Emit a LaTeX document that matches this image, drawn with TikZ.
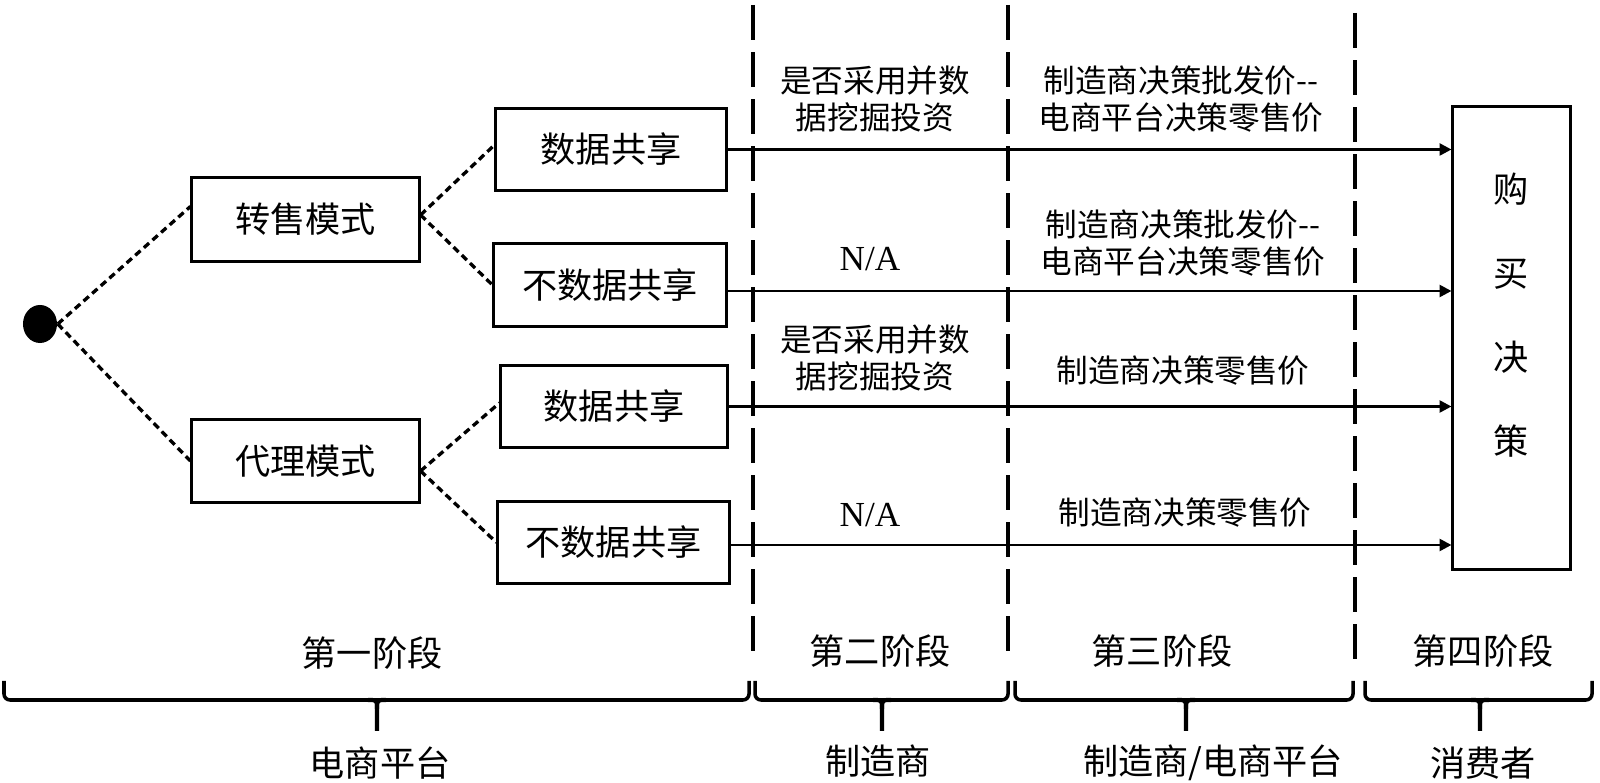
\documentclass[tikz,border=0pt]{standalone}
\usepackage{fontspec}
\setmainfont{Noto Sans CJK SC}
\newfontfamily\tnr{Liberation Serif}
\usetikzlibrary{shapes.geometric,arrows.meta}
\tikzset{
  boxnode/.style={draw, line width=0.85pt, inner sep=0pt, font=\fontsize{10pt}{12pt}\selectfont},
  tree/.style={line width=0.95pt, dash pattern=on 0.07cm off 0.045cm},
  arr/.style={line width=0.75pt, -{Triangle[length=3.4pt,width=3.4pt]}},
  stage/.style={line width=1.15pt, dash pattern=on 0.35cm off 0.12cm},
  bracestyle/.style={line width=1pt},
  lbl/.style={font=\fontsize{10pt}{12pt}\selectfont, inner sep=0pt},
  note/.style={font=\fontsize{9pt}{0.37cm}\selectfont, align=center, inner sep=0pt},
  natext/.style={font=\tnr\fontsize{10pt}{12pt}\selectfont, inner sep=0pt},
}
\newcommand\stagebrace[3]{%
  \draw[bracestyle, rounded corners=0.06cm] (#1,681) -- (#1,700) -- (#2,700) -- (#2,681);
  \draw[bracestyle, line width=1.2pt] (#3-9,700) .. controls (#3,700) .. (#3,709) -- (#3,731);
  \draw[bracestyle, line width=1.2pt] (#3+9,700) .. controls (#3,700) .. (#3,709);
}
\begin{document}
\begin{tikzpicture}[x=0.01cm, y=-0.01cm]
\useasboundingbox (0,0) rectangle (1600,783);

% root
\node[ellipse, fill=black, minimum width=0.34cm, minimum height=0.38cm, inner sep=0pt] (root) at (40,324) {};

% mode boxes
\node[boxnode, minimum width=2.27cm, minimum height=0.83cm] (zs) at (305.5,219.5) {转售模式};
\node[boxnode, minimum width=2.27cm, minimum height=0.82cm] (dl) at (305.5,461) {代理模式};

% sharing boxes
\node[boxnode, minimum width=2.30cm, minimum height=0.81cm] (s1) at (611,149.5) {数据共享};
\node[boxnode, minimum width=2.32cm, minimum height=0.82cm] (n1) at (610,285) {不数据共享};
\node[boxnode, minimum width=2.26cm, minimum height=0.81cm] (s2) at (614,406.5) {数据共享};
\node[boxnode, minimum width=2.31cm, minimum height=0.81cm] (n2) at (613.5,542.5) {不数据共享};

% purchase decision
\node[boxnode, minimum width=1.17cm, minimum height=4.62cm] (buy) at (1511.5,338) {};
\node[inner sep=0pt, align=center, font=\fontsize{10pt}{0.84cm}\selectfont] (buyt) at (1511,315.5) {购\\买\\决\\策};

% tree connectors
\draw[tree] (root.east) -- ([yshift=0.13cm]zs.west);
\draw[tree] (root.east) -- (dl.west);
\draw[tree] ([yshift=0.045cm]zs.east) -- ([yshift=0.045cm]s1.west);
\draw[tree] ([yshift=0.045cm]zs.east) -- (n1.west);
\draw[tree] ([yshift=-0.1cm]dl.east) -- ([yshift=0.035cm]s2.west);
\draw[tree] ([yshift=-0.1cm]dl.east) -- (n2.west);

% stage separators
\draw[stage] (753,5) -- (753,658);
\draw[stage] (1008,5) -- (1008,658);
\draw[stage] (1355,13) -- (1355,668);

% arrows
\coordinate (a1) at (s1.east);
\coordinate (a2) at ([yshift=-0.06cm]n1.east);
\coordinate (a3) at (s2.east);
\coordinate (a4) at ([yshift=-0.025cm]n2.east);
\draw[arr] (a1) -- (a1 -| buy.west);
\draw[arr] (a2) -- (a2 -| buy.west);
\draw[arr] (a3) -- (a3 -| buy.west);
\draw[arr] (a4) -- (a4 -| buy.west);

% annotations
\node[note] (t1a) at (875,99) {是否采用并数\\据挖掘投资};
\node[note] (t1b) at (1181,99) {制造商决策批发价-{}-\\电商平台决策零售价};
\node[natext] (na1) at (870,259) {N/A};
\node[note] (t2b) at (1183,243.5) {制造商决策批发价-{}-\\电商平台决策零售价};
\node[note] (t3a) at (875,358) {是否采用并数\\据挖掘投资};
\node[note] (t3b) at (1183,371) {制造商决策零售价};
\node[natext] (na2) at (870,515) {N/A};
\node[note] (t4b) at (1185,513) {制造商决策零售价};

% stage labels
\node[lbl] (st1) at (372,653) {第一阶段};
\node[lbl] (st2) at (880,651) {第二阶段};
\node[lbl] (st3) at (1162,651) {第三阶段};
\node[lbl] (st4) at (1483,651) {第四阶段};

% braces
\stagebrace{4}{749}{377}
\stagebrace{755}{1008}{882}
\stagebrace{1015}{1353}{1186}
\stagebrace{1365}{1592}{1480}

% actors
\node[lbl] (ac1) at (380,763) {电商平台};
\node[lbl] (ac2) at (878,761) {制造商};
\node[lbl] (ac3) at (1213,763) {制造商/电商平台};
\node[lbl] (ac4) at (1483,763) {消费者};
\end{tikzpicture}
\end{document}
